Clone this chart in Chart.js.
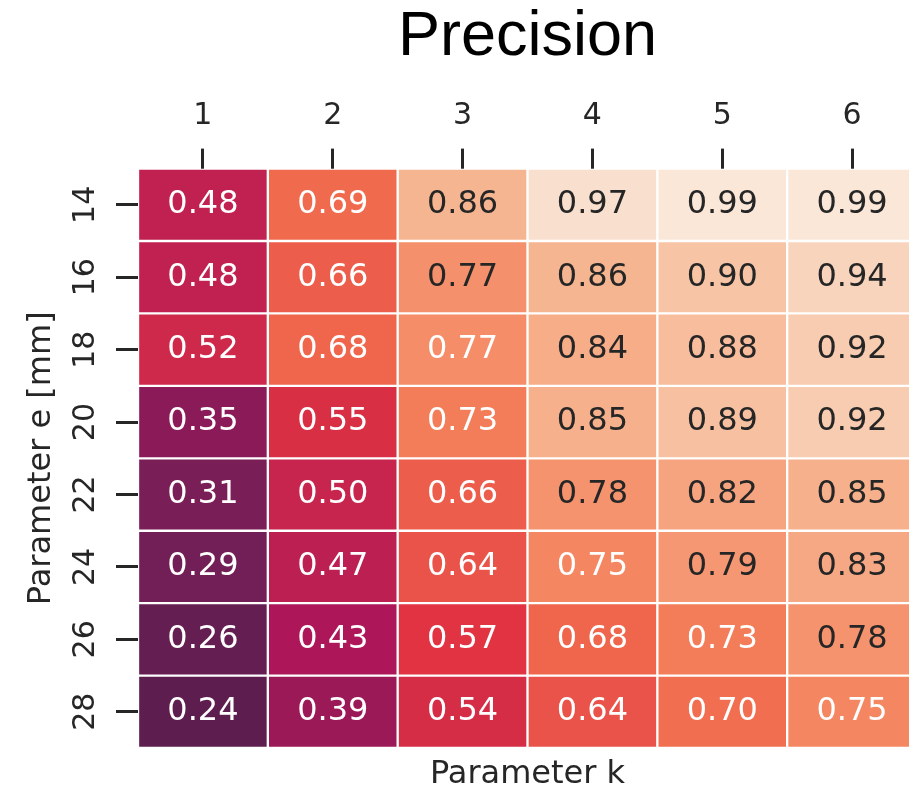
<!DOCTYPE html>
<html>
<head>
<meta charset="utf-8">
<script src="https://cdn.jsdelivr.net/npm/chart.js@4.4.0/dist/chart.umd.min.js"></script>
<style>
  html, body { margin: 0; padding: 0; background: #fff; overflow: hidden; }
  #wrap { width: 920px; height: 794px; }
</style>
</head>
<body>
<div id="wrap"><canvas id="heatmap" width="920" height="794"></canvas></div>
<script>
// Heatmap data: rows = parameter e [mm], columns = parameter k
const eLabels = ['14', '16', '18', '20', '22', '24', '26', '28'];
const kValues = [1, 2, 3, 4, 5, 6];
const precision = [
    [0.48, 0.69, 0.86, 0.97, 0.99, 0.99],
    [0.48, 0.66, 0.774, 0.86, 0.90, 0.94],
    [0.52, 0.68, 0.766, 0.84, 0.88, 0.92],
    [0.35, 0.55, 0.73, 0.85, 0.89, 0.92],
    [0.31, 0.50, 0.66, 0.78, 0.82, 0.85],
    [0.29, 0.47, 0.64, 0.75, 0.79, 0.83],
    [0.26, 0.43, 0.57, 0.68, 0.73, 0.78],
    [0.24, 0.39, 0.54, 0.64, 0.70, 0.75]
];

// cells at or above this value get dark text (like seaborn's luminance switch)
const darkTextFrom = 0.77;

// rocket colormap, vmin 0 / vmax 1
const rocketStops = [
    [0.000, '#03051a'],
    [0.143, '#35193e'],
    [0.286, '#701f57'],
    [0.429, '#ad1759'],
    [0.571, '#e13342'],
    [0.714, '#f37651'],
    [0.857, '#f6b48f'],
    [1.000, '#faebdd']
];

function hexToRgb(hex) {
    const n = parseInt(hex.slice(1), 16);
    return [(n >> 16) & 255, (n >> 8) & 255, n & 255];
}

function rocket(v) {
    for (let i = 1; i < rocketStops.length; i++) {
        const [p1, c1] = rocketStops[i];
        if (v <= p1) {
            const [p0, c0] = rocketStops[i - 1];
            const t = (v - p0) / (p1 - p0);
            const a = hexToRgb(c0), b = hexToRgb(c1);
            const rgb = a.map((x, k) => Math.round(x + (b[k] - x) * t));
            return `rgb(${rgb[0]}, ${rgb[1]}, ${rgb[2]})`;
        }
    }
    return rocketStops[rocketStops.length - 1][1];
}

const inkColor = '#262626';

// Draw the numbers inside each cell
const cellLabels = {
    id: 'cellLabels',
    afterDatasetsDraw(chart) {
        const ctx = chart.ctx;
        ctx.save();
        ctx.font = '32px "DejaVu Sans"';
        ctx.textAlign = 'center';
        ctx.textBaseline = 'middle';
        chart.data.datasets.forEach((ds, j) => {
            chart.getDatasetMeta(j).data.forEach((bar, i) => {
                const v = precision[i][j];
                const c = bar.getCenterPoint();
                ctx.fillStyle = v >= darkTextFrom ? inkColor : '#ffffff';
                ctx.fillText(v.toFixed(2), c.x, c.y);
            });
        });
        ctx.restore();
    }
};

// One floating-bar dataset per k column, bars overlap full-width in each e row
const datasets = kValues.map((k, j) => ({
    label: 'k = ' + k,
    data: eLabels.map(() => [k - 0.5, k + 0.5]),
    backgroundColor: precision.map(row => rocket(row[j])),
    borderColor: '#ffffff',
    borderWidth: 1.5,
    borderSkipped: false,
    barPercentage: 1,
    categoryPercentage: 1,
    grouped: false,
    xAxisID: 'x',
    yAxisID: 'y'
}));

const ctx = document.getElementById('heatmap').getContext('2d');
new Chart(ctx, {
    type: 'bar',
    data: { labels: eLabels, datasets: datasets },
    options: {
        indexAxis: 'y',
        responsive: false,
        animation: false,
        devicePixelRatio: 1,
        layout: { padding: { left: 0, right: 3, top: 0, bottom: 0 } },
        plugins: {
            legend: { display: false },
            tooltip: { enabled: false },
            title: {
                display: true,
                text: 'Precision',
                fullSize: false,
                color: '#000000',
                font: { family: '"Liberation Sans", Arial, sans-serif', size: 63, weight: 'normal', lineHeight: 1.2 },
                padding: 0
            }
        },
        scales: {
            x: {
                type: 'linear',
                position: 'top',
                min: 0.5,
                max: 6.5,
                afterBuildTicks: s => { s.ticks = kValues.map(v => ({ value: v })); },
                afterFit: s => { s.height = 93; },
                ticks: {
                    color: inkColor,
                    font: { family: '"DejaVu Sans"', size: 30 },
                    padding: 14,
                    maxRotation: 0,
                    autoSkip: false
                },
                grid: { drawOnChartArea: false, drawTicks: true, tickLength: 20, tickWidth: 3, tickColor: inkColor },
                border: { display: false }
            },
            y: {
                type: 'category',
                position: 'left',
                afterFit: s => { s.width = 138; },
                ticks: {
                    color: inkColor,
                    font: { family: '"DejaVu Sans"', size: 30 },
                    minRotation: 90,
                    maxRotation: 90,
                    crossAlign: 'center',
                    padding: 11,
                    autoSkip: false
                },
                grid: { offset: false, drawOnChartArea: false, drawTicks: true, tickLength: 22, tickWidth: 3, tickColor: inkColor },
                border: { display: false },
                title: {
                    display: true,
                    text: 'Parameter e [mm]',
                    color: inkColor,
                    font: { family: '"DejaVu Sans"', size: 32 },
                    padding: { top: 22, bottom: 0 }
                }
            },
            kTitle: {
                type: 'linear',
                position: 'bottom',
                ticks: { display: false },
                grid: { display: false },
                border: { display: false },
                afterFit: s => { s.height = 46; },
                title: {
                    display: true,
                    text: 'Parameter k',
                    color: inkColor,
                    font: { family: '"DejaVu Sans"', size: 32 },
                    padding: 0
                }
            }
        }
    },
    plugins: [cellLabels]
});
</script>
</body>
</html>
